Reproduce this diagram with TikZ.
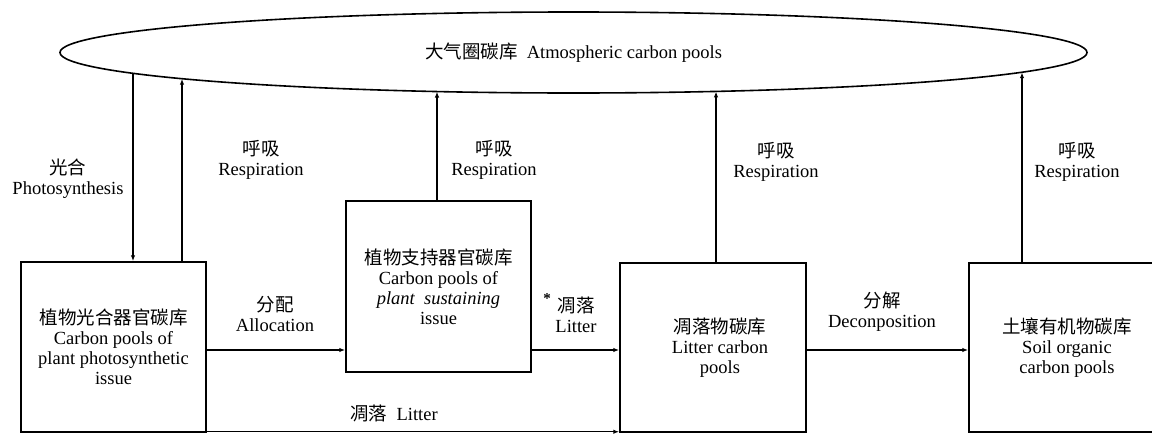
\documentclass[tikz,border=0pt]{standalone}
\usepackage{fontspec}
\setmainfont{Liberation Serif}
\newfontfamily\cjk{Noto Sans CJK SC}
\usetikzlibrary{shapes.geometric,arrows.meta,calc}
\newcommand\lblfont{\fontsize{18.5}{20}\selectfont}
\begin{document}
\begin{tikzpicture}[x=1pt,y=-1pt,
  box/.style={draw,line width=1.5pt,inner sep=0pt,align=center,font=\lblfont},
  lbl/.style={align=center,font=\lblfont,inner sep=0pt},
  arr/.style={line width=1.3pt,-{Latex[length=6pt,width=4.5pt]}}]
\useasboundingbox (0,0) rectangle (1152,434);
\clip (0,0) rectangle (1152,434);
% atmosphere
\node[ellipse,draw,line width=1.6pt,minimum width=1027pt,minimum height=81pt,inner sep=0pt,font=\lblfont]
  (atm) at (573.5,52.5) {{\cjk 大气圈碳库}\ \ Atmospheric carbon pools};
% points on the ellipse where the fluxes meet it
\coordinate (e1) at ($(atm.center)+(-440.5,20.81)$);
\coordinate (e2) at ($(atm.center)+(-391.5,26.21)$);
\coordinate (e3) at ($(atm.center)+(-136.5,39.04)$);
\coordinate (e4) at ($(atm.center)+(142.5,38.91)$);
\coordinate (e5) at ($(atm.center)+(448.5,19.72)$);
% pools
\node[box,minimum width=185pt,minimum height=170pt] (b1) at (113.5,347)
  {{\cjk 植物光合器官碳库}\\Carbon pools of\\plant photosynthetic\\issue};
\node[box,minimum width=185pt,minimum height=171pt] (b2) at (438.5,286.5)
  {{\cjk 植物支持器官碳库}\\Carbon pools of\\\textit{plant\ \ sustaining}\\issue};
\node[box,minimum width=186pt,minimum height=169pt] (b3) at (713,347.5)
  {\hspace*{14pt}{\cjk 凋落物碳库}\\\hspace*{14pt}Litter carbon\\\hspace*{14pt}pools};
\node[box,minimum width=196pt,minimum height=169pt] (b4) at (1067,347.5)
  {{\cjk 土壤有机物碳库}\\Soil organic\\carbon pools};
% vertical fluxes
\draw[arr] (e1) -- (e1 |- b1.north);
\draw[arr] (e2 |- b1.north) -- (e2);
\draw[arr] (e3 |- b2.north) -- (e3);
\draw[arr] (e4 |- b3.north) -- (e4);
\draw[arr] (e5 |- b4.north) -- (e5);
% horizontal fluxes
\draw[arr] ([yshift=-3pt]b1.east) -- ([yshift=-3pt]b1.east -| b2.west);
\draw[arr] ([yshift=-2.5pt]b3.west -| b2.east) -- ([yshift=-2.5pt]b3.west);
\draw[arr] ([yshift=-2.5pt]b3.east) -- ([yshift=-2.5pt]b3.east -| b4.west);
\draw[arr] ([yshift=1pt]b1.south east) -- ([yshift=1pt]b1.south east -| b3.west);
% labels
\node[lbl] (lph) at (68,179) {{\cjk 光合}\\Photosynthesis};
\node[lbl] (lr1) at (261,160) {{\cjk 呼吸}\\Respiration};
\node[lbl] (lr2) at (494,160) {{\cjk 呼吸}\\Respiration};
\node[lbl] (lr3) at (776,162) {{\cjk 呼吸}\\Respiration};
\node[lbl] (lr4) at (1077,162) {{\cjk 呼吸}\\Respiration};
\node[lbl] (lal) at (275,314) {{\cjk 分配}\\Allocation};
\node[lbl] (lli) at (576,315) {{\cjk 凋落}\\Litter};
\node[inner sep=0pt,font=\fontsize{15}{15}\selectfont\bfseries] (star) at (547,299) {*};
\node[lbl] (ldc) at (882,312) {{\cjk 分解}\\Deconposition};
\node[lbl] (llb) at (394,413) {{\cjk 凋落}\ \ Litter};
\end{tikzpicture}
\end{document}
